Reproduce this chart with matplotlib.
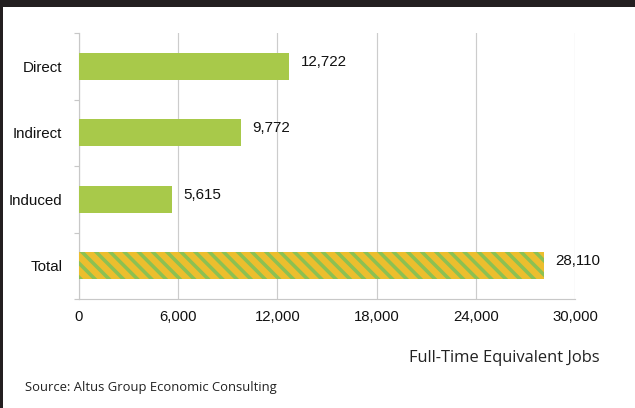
import matplotlib
matplotlib.use("Agg")
import matplotlib.pyplot as plt
from matplotlib.patches import Rectangle

categories = ["Direct", "Indirect", "Induced", "Total"]
values = [12722, 9772, 5615, 28110]
value_labels = ["12,722", "9,772", "5,615", "28,110"]
xticks = [0, 6000, 12000, 18000, 24000, 30000]
xtick_labels = ["0", "6,000", "12,000", "18,000", "24,000", "30,000"]

DPI = 85
W, H = 635, 408
plt.rcParams["hatch.linewidth"] = 3.0
fig = plt.figure(figsize=(W / DPI, H / DPI), dpi=DPI)
fig.patch.set_facecolor("white")

# dark frame (top band and left edge)
fig.add_artist(Rectangle((0, 1 - 7 / H), 1, 7 / H, transform=fig.transFigure,
                         facecolor="#231f20", edgecolor="none"))
fig.add_artist(Rectangle((0, 0), 3 / W, 1, transform=fig.transFigure,
                         facecolor="#231f20", edgecolor="none"))

ax = fig.add_axes([79 / W, 1 - 299 / H, (575 - 79) / W, (299 - 33) / H])
ypos = list(range(len(categories)))
green = "#a8c94a"
for i, (c, v) in enumerate(zip(categories, values)):
    if c == "Total":
        ax.barh(i, v, height=0.4, color="#ecbe2e", edgecolor="#8cc152",
                hatch="\\\\", linewidth=0, zorder=3)
    else:
        ax.barh(i, v, height=0.4, color=green, linewidth=0, zorder=3)
    ax.text(v + 700, i - 0.07, value_labels[i], ha="left", va="center",
            fontsize=12.8, family="Liberation Sans", color="#111111")

ax.set_xlim(0, 30000)
ax.set_ylim(3.5, -0.5)
ax.set_xticks(xticks)
ax.set_xticklabels(xtick_labels, fontsize=12.6, family="Liberation Sans", color="#111111")
ax.tick_params(axis="x", length=0, pad=9)
ax.set_yticks(ypos)
ax.set_yticklabels(categories, fontsize=12.8, family="Liberation Sans", color="#111111")
ax.tick_params(axis="y", length=0, pad=14)
ax.set_yticks([-0.5, 0.5, 1.5, 2.5, 3.5], minor=True)
ax.tick_params(axis="y", which="minor", length=4, width=1, color="#c8c8c8")
ax.grid(axis="x", color="#cccccc", linewidth=1, zorder=0)
for s in ["top", "right"]:
    ax.spines[s].set_visible(False)
for s in ["left", "bottom"]:
    ax.spines[s].set_color("#c8c8c8")
    ax.spines[s].set_linewidth(1)

fig.text(504 / W, 1 - 358 / H, "Full-Time Equivalent Jobs", ha="center", va="center",
         fontsize=14.0, family="Open Sans", color="#222222")
fig.text(25 / W, 1 - 388 / H, "Source: Altus Group Economic Consulting", ha="left",
         va="center", fontsize=11.0, family="Open Sans", color="#222222")

fig.savefig("out.png", dpi=DPI, facecolor="white")
